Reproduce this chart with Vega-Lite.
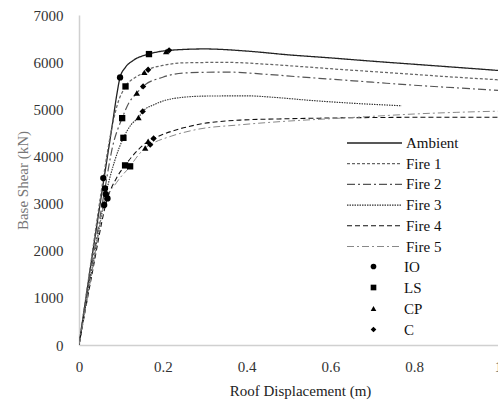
{
  "$schema": "https://vega.github.io/schema/vega-lite/v6.json",
  "width": 419,
  "height": 330,
  "autosize": "none",
  "padding": {"left": 79, "top": 15, "right": 0, "bottom": 61},
  "background": "white",
  "config": {
    "view": {"stroke": null},
    "font": "Liberation Serif"
  },
  "datasets": {
    "curves": [
      {"series": "Ambient", "d": 0, "v": 0}, {"series": "Ambient", "d": 0.03, "v": 1800}, {"series": "Ambient", "d": 0.06, "v": 3550}, {"series": "Ambient", "d": 0.08, "v": 4700}, {"series": "Ambient", "d": 0.09, "v": 5300}, {"series": "Ambient", "d": 0.098, "v": 5676}, {"series": "Ambient", "d": 0.11, "v": 5880}, {"series": "Ambient", "d": 0.13, "v": 6040}, {"series": "Ambient", "d": 0.167, "v": 6171}, {"series": "Ambient", "d": 0.215, "v": 6250}, {"series": "Ambient", "d": 0.3, "v": 6280}, {"series": "Ambient", "d": 0.4, "v": 6235}, {"series": "Ambient", "d": 0.5, "v": 6155}, {"series": "Ambient", "d": 0.6, "v": 6090}, {"series": "Ambient", "d": 0.7, "v": 6020}, {"series": "Ambient", "d": 0.8, "v": 5955}, {"series": "Ambient", "d": 0.9, "v": 5890}, {"series": "Ambient", "d": 1.0, "v": 5824},
      {"series": "Fire 1", "d": 0, "v": 0}, {"series": "Fire 1", "d": 0.03, "v": 1850}, {"series": "Fire 1", "d": 0.058, "v": 3540}, {"series": "Fire 1", "d": 0.075, "v": 4450}, {"series": "Fire 1", "d": 0.09, "v": 5050}, {"series": "Fire 1", "d": 0.111, "v": 5485}, {"series": "Fire 1", "d": 0.135, "v": 5680}, {"series": "Fire 1", "d": 0.156, "v": 5783}, {"series": "Fire 1", "d": 0.165, "v": 5839}, {"series": "Fire 1", "d": 0.2, "v": 5930}, {"series": "Fire 1", "d": 0.25, "v": 5985}, {"series": "Fire 1", "d": 0.35, "v": 5995}, {"series": "Fire 1", "d": 0.45, "v": 5955}, {"series": "Fire 1", "d": 0.527, "v": 5908}, {"series": "Fire 1", "d": 0.6, "v": 5860}, {"series": "Fire 1", "d": 0.7, "v": 5800}, {"series": "Fire 1", "d": 0.8, "v": 5740}, {"series": "Fire 1", "d": 0.9, "v": 5680}, {"series": "Fire 1", "d": 1.0, "v": 5626},
      {"series": "Fire 2", "d": 0, "v": 0}, {"series": "Fire 2", "d": 0.03, "v": 1650}, {"series": "Fire 2", "d": 0.062, "v": 3320}, {"series": "Fire 2", "d": 0.08, "v": 4200}, {"series": "Fire 2", "d": 0.103, "v": 4812}, {"series": "Fire 2", "d": 0.12, "v": 5150}, {"series": "Fire 2", "d": 0.138, "v": 5344}, {"series": "Fire 2", "d": 0.153, "v": 5485}, {"series": "Fire 2", "d": 0.2, "v": 5680}, {"series": "Fire 2", "d": 0.25, "v": 5770}, {"series": "Fire 2", "d": 0.35, "v": 5790}, {"series": "Fire 2", "d": 0.45, "v": 5740}, {"series": "Fire 2", "d": 0.527, "v": 5687}, {"series": "Fire 2", "d": 0.6, "v": 5640}, {"series": "Fire 2", "d": 0.7, "v": 5575}, {"series": "Fire 2", "d": 0.8, "v": 5510}, {"series": "Fire 2", "d": 0.9, "v": 5455}, {"series": "Fire 2", "d": 1.0, "v": 5400},
      {"series": "Fire 3", "d": 0, "v": 0}, {"series": "Fire 3", "d": 0.03, "v": 1550}, {"series": "Fire 3", "d": 0.064, "v": 3200}, {"series": "Fire 3", "d": 0.085, "v": 3900}, {"series": "Fire 3", "d": 0.106, "v": 4395}, {"series": "Fire 3", "d": 0.125, "v": 4680}, {"series": "Fire 3", "d": 0.142, "v": 4826}, {"series": "Fire 3", "d": 0.152, "v": 4954}, {"series": "Fire 3", "d": 0.18, "v": 5100}, {"series": "Fire 3", "d": 0.22, "v": 5220}, {"series": "Fire 3", "d": 0.3, "v": 5280}, {"series": "Fire 3", "d": 0.4, "v": 5285}, {"series": "Fire 3", "d": 0.47, "v": 5250}, {"series": "Fire 3", "d": 0.55, "v": 5190}, {"series": "Fire 3", "d": 0.65, "v": 5130}, {"series": "Fire 3", "d": 0.77, "v": 5075},
      {"series": "Fire 4", "d": 0, "v": 0}, {"series": "Fire 4", "d": 0.03, "v": 1450}, {"series": "Fire 4", "d": 0.068, "v": 3110}, {"series": "Fire 4", "d": 0.09, "v": 3550}, {"series": "Fire 4", "d": 0.11, "v": 3810}, {"series": "Fire 4", "d": 0.14, "v": 4130}, {"series": "Fire 4", "d": 0.165, "v": 4320}, {"series": "Fire 4", "d": 0.178, "v": 4380}, {"series": "Fire 4", "d": 0.22, "v": 4530}, {"series": "Fire 4", "d": 0.28, "v": 4670}, {"series": "Fire 4", "d": 0.384, "v": 4770}, {"series": "Fire 4", "d": 0.5, "v": 4800}, {"series": "Fire 4", "d": 0.6, "v": 4815}, {"series": "Fire 4", "d": 0.7, "v": 4825}, {"series": "Fire 4", "d": 0.8, "v": 4830}, {"series": "Fire 4", "d": 0.9, "v": 4832}, {"series": "Fire 4", "d": 1.0, "v": 4833},
      {"series": "Fire 5", "d": 0, "v": 0}, {"series": "Fire 5", "d": 0.03, "v": 1500}, {"series": "Fire 5", "d": 0.06, "v": 2970}, {"series": "Fire 5", "d": 0.09, "v": 3450}, {"series": "Fire 5", "d": 0.122, "v": 3790}, {"series": "Fire 5", "d": 0.14, "v": 4010}, {"series": "Fire 5", "d": 0.158, "v": 4180}, {"series": "Fire 5", "d": 0.17, "v": 4250}, {"series": "Fire 5", "d": 0.22, "v": 4430}, {"series": "Fire 5", "d": 0.28, "v": 4570}, {"series": "Fire 5", "d": 0.384, "v": 4670}, {"series": "Fire 5", "d": 0.5, "v": 4750}, {"series": "Fire 5", "d": 0.6, "v": 4800}, {"series": "Fire 5", "d": 0.7, "v": 4850}, {"series": "Fire 5", "d": 0.8, "v": 4900}, {"series": "Fire 5", "d": 0.9, "v": 4935}, {"series": "Fire 5", "d": 1.0, "v": 4960}
    ],
    "points": [
      {"series": "Ambient", "state": "IO", "d": 0.098, "v": 5676}, {"series": "Ambient", "state": "LS", "d": 0.167, "v": 6171}, {"series": "Ambient", "state": "CP", "d": 0.208, "v": 6225}, {"series": "Ambient", "state": "C", "d": 0.215, "v": 6250},
      {"series": "Fire 1", "state": "IO", "d": 0.058, "v": 3540}, {"series": "Fire 1", "state": "LS", "d": 0.111, "v": 5485}, {"series": "Fire 1", "state": "CP", "d": 0.156, "v": 5783}, {"series": "Fire 1", "state": "C", "d": 0.165, "v": 5839},
      {"series": "Fire 2", "state": "IO", "d": 0.062, "v": 3320}, {"series": "Fire 2", "state": "LS", "d": 0.103, "v": 4812}, {"series": "Fire 2", "state": "CP", "d": 0.138, "v": 5344}, {"series": "Fire 2", "state": "C", "d": 0.153, "v": 5485},
      {"series": "Fire 3", "state": "IO", "d": 0.064, "v": 3200}, {"series": "Fire 3", "state": "LS", "d": 0.106, "v": 4395}, {"series": "Fire 3", "state": "CP", "d": 0.142, "v": 4826}, {"series": "Fire 3", "state": "C", "d": 0.152, "v": 4954},
      {"series": "Fire 4", "state": "IO", "d": 0.068, "v": 3110}, {"series": "Fire 4", "state": "LS", "d": 0.110, "v": 3810}, {"series": "Fire 4", "state": "CP", "d": 0.165, "v": 4320}, {"series": "Fire 4", "state": "C", "d": 0.178, "v": 4380},
      {"series": "Fire 5", "state": "IO", "d": 0.060, "v": 2970}, {"series": "Fire 5", "state": "LS", "d": 0.122, "v": 3790}, {"series": "Fire 5", "state": "CP", "d": 0.158, "v": 4180}, {"series": "Fire 5", "state": "C", "d": 0.170, "v": 4250}
    ]
  },
  "encoding": {
    "x": {
      "field": "d", "type": "quantitative",
      "scale": {"domain": [0, 1], "nice": false, "zero": false},
      "axis": {
        "values": [0, 0.2, 0.4, 0.6, 0.8, 1], "format": "~g",
        "title": "Roof Displacement (m)", "titleFont": "Liberation Serif", "titleFontSize": 15, "titleFontWeight": "normal", "titleColor": "#222",
        "titleX": 221, "titleY": 45, "titleAnchor": null, "titleAlign": "center", "titleBaseline": "middle",
        "labelFont": "Liberation Serif", "labelFontSize": 15, "labelColor": "#333", "labelPadding": 14,
        "ticks": false, "grid": false, "domainColor": "#d0d0d0", "domainWidth": 1.5, "labelFlush": false, "labelOverlap": false
      }
    },
    "y": {
      "field": "v", "type": "quantitative",
      "scale": {"domain": [0, 7000], "nice": false},
      "axis": {
        "values": [0, 1000, 2000, 3000, 4000, 5000, 6000, 7000], "format": "d",
        "title": "Base Shear (kN)", "titleFont": "Liberation Serif", "titleFontSize": 15, "titleFontWeight": "normal", "titleColor": "#777",
        "titleX": -57, "titleY": 165, "titleAnchor": null, "titleAlign": "center", "titleBaseline": "middle", "titleAngle": 270,
        "labelFont": "Liberation Serif", "labelFontSize": 15, "labelColor": "#333", "labelPadding": 16,
        "ticks": false, "grid": false, "domainColor": "#d0d0d0", "domainWidth": 1.5, "labelFlush": false, "labelOverlap": false
      }
    }
  },
  "layer": [
    {
      "data": {"name": "curves"},
      "mark": {"type": "line", "interpolate": "monotone", "clip": true},
      "encoding": {
        "color": {
          "field": "series", "type": "nominal",
          "scale": {"domain": ["Ambient", "Fire 1", "Fire 2", "Fire 3", "Fire 4", "Fire 5"], "range": ["#222222", "#666666", "#555555", "#333333", "#111111", "#888888"]},
          "legend": {
            "title": null, "orient": "none", "legendX": 288, "legendY": 120.5, "padding": 0,
            "symbolType": "M-5,0H5", "symbolSize": 121, "symbolStrokeWidth": 1.2, "labelOffset": 24,
            "rowPadding": 4.7, "labelFont": "Liberation Serif", "labelFontSize": 15, "labelColor": "#111"
          }
        },
        "strokeDash": {
          "field": "series", "type": "nominal",
          "scale": {"domain": ["Ambient", "Fire 1", "Fire 2", "Fire 3", "Fire 4", "Fire 5"], "range": [[1, 0], [3, 2], [8, 3, 2, 3], [1.5, 1], [5, 3], [7, 3, 2, 3]]},
          "legend": {
            "title": null, "orient": "none", "legendX": 288, "legendY": 120.5, "padding": 0,
            "symbolType": "M-5,0H5", "symbolSize": 121, "symbolStrokeWidth": 1.2, "labelOffset": 24,
            "rowPadding": 4.7, "labelFont": "Liberation Serif", "labelFontSize": 15, "labelColor": "#111"
          }
        },
        "strokeWidth": {
          "field": "series", "type": "nominal",
          "scale": {"domain": ["Ambient", "Fire 1", "Fire 2", "Fire 3", "Fire 4", "Fire 5"], "range": [1.3, 1, 1.1, 1.1, 1.3, 1]},
          "legend": null
        }
      }
    },
    {
      "data": {"name": "points"},
      "mark": {"type": "point", "filled": true, "color": "#000", "opacity": 1, "size": 40},
      "encoding": {
        "shape": {
          "field": "state", "type": "nominal",
          "scale": {"domain": ["IO", "LS", "CP", "C"], "range": ["circle", "square", "triangle-up", "diamond"]},
          "legend": {
            "title": null, "orient": "none", "legendX": 287, "legendY": 244, "padding": 0,
            "symbolSize": 32, "symbolFillColor": "#000", "symbolStrokeColor": "#000", "labelOffset": 23,
            "rowPadding": 5, "labelFont": "Liberation Serif", "labelFontSize": 15, "labelColor": "#111"
          }
        }
      }
    }
  ]
}
